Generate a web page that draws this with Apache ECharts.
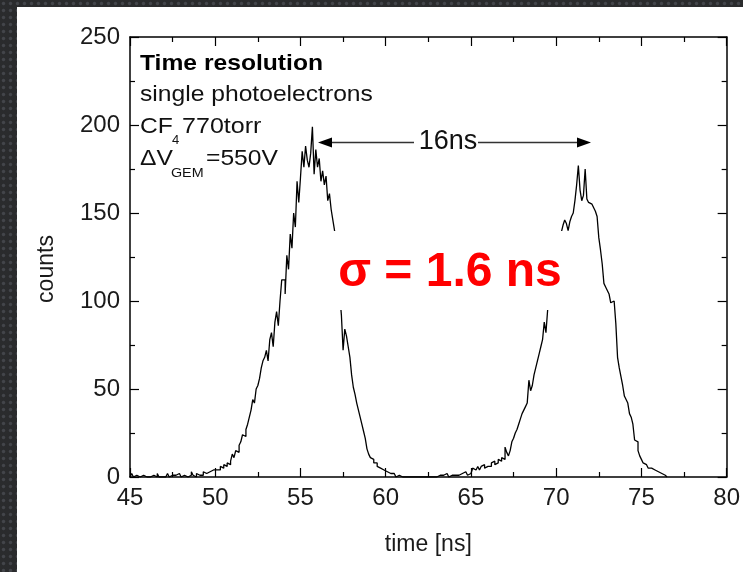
<!DOCTYPE html>
<html>
<head>
<meta charset="utf-8">
<script src="https://cdn.jsdelivr.net/npm/echarts@6/dist/echarts.min.js"></script>
<style>
  html, body { margin:0; padding:0; width:743px; height:572px; overflow:hidden; }
  body { background-color:#2a2b2d;
    background-image: radial-gradient(circle, #43454a 1.2px, transparent 2.2px);
    background-size: 7px 7px; }
  #panel { position:absolute; left:17px; top:7px; right:0; bottom:0; background:#fff; }
  #chart { position:absolute; left:0; top:0; width:743px; height:572px; }
</style>
</head>
<body>
<div id="panel"></div>
<div id="chart"></div>
<script>
// ---- data ----
const binWidth = 0.1;            // ns
const peak1Start = 45.0;          // first bin of peak 1 block
const peak1Counts = [
  0,2,0,1,0,0,0,1,0,0,
  0,0,0,1,0,0,2,0,0,1,
  0,0,2,0,1,0,1,0,2,1,
  0,1,2,0,1,1,3,1,0,2,
  1,2,1,3,2,1,3,2,4,3,
  4,5,4,6,5,7,6,8,7,9,
  13,11,15,14,18,20,24,23,27,30,
  34,38,44,42,50,52,56,62,66,68,
  72,66,78,82,74,88,94,86,100,112,
  112,104,126,118,138,130,150,142,168,156,
  170,185,176,188,180,176,184,199,172,186,
  176,181,168,174,166,171,157,161,152,146,
  140,130,118,104,92,72,84,80,74,68,
  58,51,47,42,38,34,30,26,22,16,
  13,11,10,8,8,6,5,4,4,3,
  3,2,2,1,2,1,0,1,0,0
];
const peak2Start = 61.0;
const peak2Counts = [
  0,0,0,0,0,0,0,0,0,0,
  0,0,0,0,1,0,0,0,1,0,
  0,1,0,1,0,2,1,0,1,2,
  1,2,1,0,2,1,3,2,1,2,
  3,5,4,3,6,4,6,7,5,6,
  7,6,8,9,7,8,10,9,11,10,
  17,14,12,15,20,22,25,27,30,33,
  36,38,40,42,55,49,52,58,62,66,
  70,74,78,88,82,95,100,104,108,115,
  120,126,132,139,143,146,144,140,145,148,
  150,157,166,177,163,157,160,175,158,156,
  155,154,153,151,148,136,129,121,110,108,
  106,104,99,100,99,87,68,62,57,52,
  46,44,42,36,34,30,21,20,15,12,
  10,8,7,6,5,5,4,4,3,3,
  3,2,2,1,1,0
];
const xTicks = { min:45, max:80, interval:5 };
const yTicks = { min:0, max:250, interval:50 };
const xTitle = 'time [ns]';
const yTitle = 'counts';
const infoTitle = 'Time resolution';
const infoLine2 = 'single photoelectrons';
const separationLabel = '16ns';
const sigmaLabel = 'σ = 1.6 ns';

// ---- build histogram points ----
const histData = [];
peak1Counts.forEach((v,i) => histData.push([+(peak1Start + i*binWidth).toFixed(2), v]));
peak2Counts.forEach((v,i) => histData.push([+(peak2Start + i*binWidth).toFixed(2), v]));

const FONT = '"Liberation Sans", Arial, Helvetica, sans-serif';
const chart = echarts.init(document.getElementById('chart'), null, {renderer:'canvas'});

const tickCommon = {
  axisLine: { show:true, onZero:false, lineStyle:{ color:'#000', width:1.5 } },
  axisTick: { show:true, inside:true, length:9, lineStyle:{ color:'#000', width:1.2 } },
  minorTick: { show:true, splitNumber:2, length:5, lineStyle:{ color:'#000', width:1.2 } },
  splitLine: { show:false },
  minorSplitLine: { show:false }
};
const labelStyle = { fontSize:24, color:'#1a1a1a', fontFamily:FONT };

const option = {
  animation: false,
  backgroundColor: 'transparent',
  grid: { left:130, right:14, top:37, bottom:95, containLabel:false },
  xAxis: [
    Object.assign({ type:'value', min:xTicks.min, max:xTicks.max, interval:xTicks.interval, position:'bottom',
      axisLabel: Object.assign({ margin:9 }, labelStyle),
      name: xTitle, nameLocation:'middle', nameGap:56,
      nameTextStyle: { fontSize:23, color:'#1a1a1a', fontFamily:FONT } }, tickCommon),
    Object.assign({ type:'value', min:xTicks.min, max:xTicks.max, interval:xTicks.interval, position:'top',
      axisLabel:{ show:false } }, tickCommon)
  ],
  yAxis: [
    Object.assign({ type:'value', min:yTicks.min, max:yTicks.max, interval:yTicks.interval, position:'left',
      axisLabel: Object.assign({ margin:10 }, labelStyle),
      name: yTitle, nameLocation:'middle', nameGap:72,
      nameTextStyle: { fontSize:23, color:'#1a1a1a', fontFamily:FONT, padding:[0,24,0,0] } }, tickCommon),
    Object.assign({ type:'value', min:yTicks.min, max:yTicks.max, interval:yTicks.interval, position:'right',
      axisLabel:{ show:false } }, tickCommon)
  ],
  series: [{
    type:'line', step:'end', data: histData, xAxisIndex:0, yAxisIndex:0,
    showSymbol:false, symbol:'none',
    lineStyle:{ color:'#000', width:1.3 }, z:2
  }],
  graphic: [
    // info block
    { type:'text', x:140, y:64, z:50, scaleX:1.12, style:{ text:infoTitle, fill:'#000', font:'bold 22px '+FONT, verticalAlign:'middle', textVerticalAlign:'middle' } },
    { type:'text', x:140, y:95, z:50, scaleX:1.12, style:{ text:infoLine2, fill:'#111', font:'22px '+FONT, verticalAlign:'middle', textVerticalAlign:'middle' } },
    { type:'text', x:140, y:127, z:50, scaleX:1.12, style:{ text:'CF', fill:'#111', font:'22px '+FONT, verticalAlign:'middle', textVerticalAlign:'middle' } },
    { type:'text', x:172, y:140, z:50, style:{ text:'4', fill:'#111', font:'13px '+FONT, verticalAlign:'middle', textVerticalAlign:'middle' } },
    { type:'text', x:182, y:127, z:50, scaleX:1.14, style:{ text:'770torr', fill:'#111', font:'22px '+FONT, verticalAlign:'middle', textVerticalAlign:'middle' } },
    { type:'text', x:140, y:159, z:50, scaleX:1.12, style:{ text:'ΔV', fill:'#111', font:'22px '+FONT, verticalAlign:'middle', textVerticalAlign:'middle' } },
    { type:'text', x:171, y:173, z:50, scaleX:1.1, style:{ text:'GEM', fill:'#111', font:'13px '+FONT, verticalAlign:'middle', textVerticalAlign:'middle' } },
    { type:'text', x:206, y:159, z:50, scaleX:1.12, style:{ text:'=550V', fill:'#111', font:'22px '+FONT, verticalAlign:'middle', textVerticalAlign:'middle' } },
    // 16ns arrow
    { type:'line', z:50, shape:{ x1:330, y1:142.5, x2:414, y2:142.5 }, style:{ stroke:'#333', lineWidth:1.3 } },
    { type:'line', z:50, shape:{ x1:478, y1:142.5, x2:578, y2:142.5 }, style:{ stroke:'#333', lineWidth:1.3 } },
    { type:'polygon', z:50, shape:{ points:[[318,142.5],[332,137.5],[332,147.5]] }, style:{ fill:'#000' } },
    { type:'polygon', z:50, shape:{ points:[[591,142.5],[577,137.5],[577,147.5]] }, style:{ fill:'#000' } },
    { type:'text', x:448, y:142, z:50, style:{ text:separationLabel, fill:'#111', font:'27px '+FONT, align:'center', textAlign:'center', verticalAlign:'middle', textVerticalAlign:'middle' } },
    // sigma label with white box
    { type:'rect', z:60, shape:{ x:334, y:231, width:232, height:79 }, style:{ fill:'#fff' } },
    { type:'text', x:450, y:273, z:61, style:{ text:sigmaLabel, fill:'#ff0000', font:'bold 48px '+FONT, align:'center', textAlign:'center', verticalAlign:'middle', textVerticalAlign:'middle' } }
  ]
};
chart.setOption(option);
</script>
</body>
</html>
